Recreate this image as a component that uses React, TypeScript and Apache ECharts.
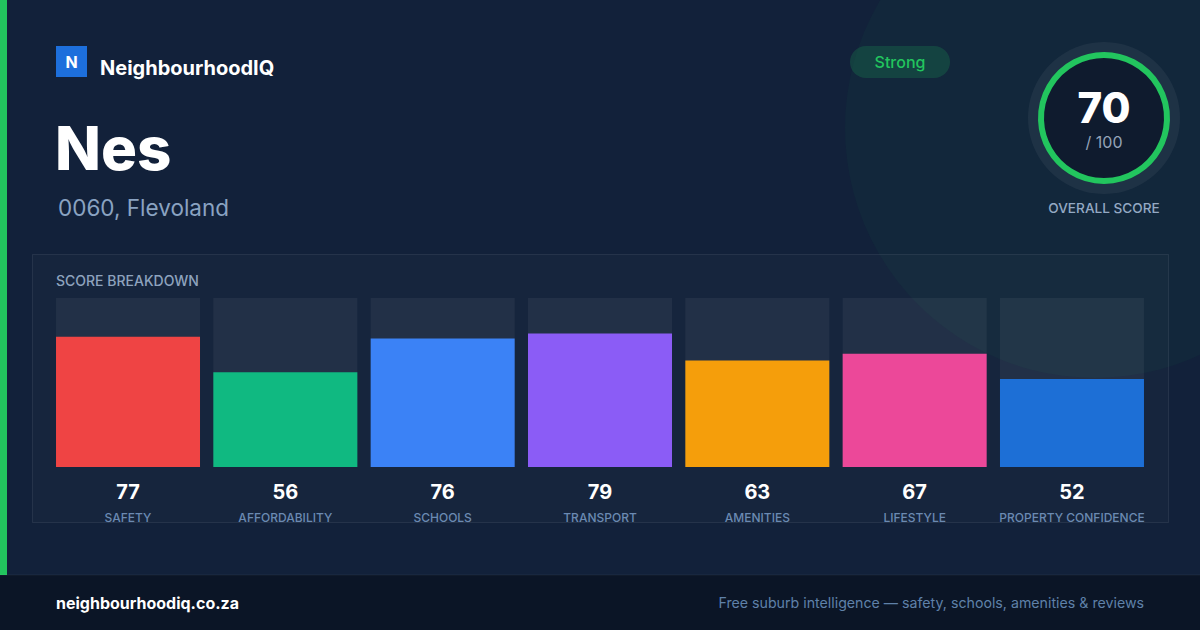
import React, { useEffect, useRef } from "react";
import * as echarts from "echarts";

const categories = ["SAFETY", "AFFORDABILITY", "SCHOOLS", "TRANSPORT", "AMENITIES", "LIFESTYLE", "PROPERTY CONFIDENCE"];
const scores = [77, 56, 76, 79, 63, 67, 52];
const barColors = ["#ef4444", "#10b981", "#3b82f6", "#8b5cf6", "#f59e0b", "#ec4899", "#1d6fd6"];
const overallScore = 70;
const suburb = "Nes";
const location = "0060, Flevoland";
const rating = "Strong";

const FONT = "Inter, 'Noto Sans', sans-serif";

export default function App() {
  const ref = useRef<HTMLDivElement>(null);
  useEffect(() => {
    if (!ref.current) return;
    const chart = echarts.init(ref.current, null, { renderer: "svg" });
    const cx = 1104, cy = 118;
    chart.setOption({
      animation: false,
      backgroundColor: "#12213a",
      textStyle: { fontFamily: FONT },
      grid: { left: 49.35, right: 49.35, top: 298, bottom: 163 },
      xAxis: {
        type: "category",
        data: categories,
        axisLine: { show: false },
        axisTick: { show: false },
        axisLabel: {
          interval: 0,
          margin: 12,
          formatter: (v: string, i: number) => `{v|${scores[i]}}\n{n|${v}}`,
          rich: {
            v: { fontSize: 20, fontWeight: "bold", color: "#ffffff", lineHeight: 26, fontFamily: FONT },
            n: { fontSize: 12, fontWeight: 500, color: "#6b8ab2", lineHeight: 24, fontFamily: FONT },
          },
        },
      },
      yAxis: { type: "value", min: 0, max: 100, show: false, splitLine: { show: false } },
      series: [
        {
          type: "bar",
          barWidth: 144,
          data: scores.map((s, i) => ({ value: s, itemStyle: { color: barColors[i] } })),
          showBackground: true,
          backgroundStyle: { color: "rgba(255,255,255,0.055)" },
          z: 3,
        },
      ],
      graphic: [
        { type: "circle", z: -10, shape: { cx: 1095, cy: 128, r: 250 }, style: { fill: "rgba(34,197,94,0.045)" } },
        { type: "rect", z: -5, shape: { x: 0, y: 0, width: 7, height: 575 }, style: { fill: "#22c55e" } },
        { type: "rect", z: -5, shape: { x: 0, y: 575, width: 1200, height: 55 }, style: { fill: "#0b1526" } },
        { type: "line", z: -5, shape: { x1: 0, y1: 575, x2: 1200, y2: 575 }, style: { stroke: "rgba(255,255,255,0.06)", lineWidth: 1 } },
        { type: "text", z: 5, x: 56, y: 603, style: { text: "neighbourhoodiq.co.za", fill: "#ffffff", font: `bold 16px ${FONT}`, textVerticalAlign: "middle" } },
        { type: "text", z: 5, x: 1144, y: 602, style: { text: "Free suburb intelligence — safety, schools, amenities & reviews", fill: "#5f81a9", font: `14.2px ${FONT}`, textAlign: "right", textVerticalAlign: "middle" } },
        { type: "rect", z: 5, shape: { x: 56, y: 46, width: 31, height: 31 }, style: { fill: "#1d6fdc" } },
        { type: "text", z: 6, x: 71.5, y: 61.5, style: { text: "N", fill: "#ffffff", font: `bold 16px ${FONT}`, textAlign: "center", textVerticalAlign: "middle" } },
        { type: "text", z: 5, x: 100, y: 68, style: { text: "NeighbourhoodIQ", fill: "#ffffff", font: `bold 20px ${FONT}`, textVerticalAlign: "middle" } },
        { type: "text", z: 5, x: 55, y: 148, style: { text: suburb, fill: "#ffffff", font: `800 60px ${FONT}`, textVerticalAlign: "middle" } },
        { type: "text", z: 5, x: 58, y: 207, style: { text: location, fill: "#8aa3c2", font: `22.5px ${FONT}`, textVerticalAlign: "middle" } },
        { type: "rect", z: 5, shape: { x: 850, y: 46, width: 100, height: 32, r: 16 }, style: { fill: "rgba(34,197,94,0.18)" } },
        { type: "text", z: 6, x: 900, y: 62, style: { text: rating, fill: "#22c55e", font: `500 16px ${FONT}`, textAlign: "center", textVerticalAlign: "middle" } },
        { type: "circle", z: 5, shape: { cx, cy, r: 76 }, style: { fill: "rgba(255,255,255,0.05)" } },
        { type: "circle", z: 6, shape: { cx, cy, r: 63 }, style: { fill: "#0f1b2e" } },
        {
          type: "arc", z: 7,
          shape: { cx, cy, r: 63, startAngle: -Math.PI / 2, endAngle: -Math.PI / 2 + Math.PI * 2 - 0.0001, clockwise: true },
          style: { stroke: "#22c55e", lineWidth: 6, fill: "none" },
        },
        { type: "text", z: 8, x: cx, y: 107, style: { text: String(overallScore), fill: "#ffffff", font: `800 42px ${FONT}`, textAlign: "center", textVerticalAlign: "middle" } },
        { type: "text", z: 8, x: cx, y: 142, style: { text: "/ 100", fill: "#94a3b8", font: `16px ${FONT}`, textAlign: "center", textVerticalAlign: "middle" } },
        { type: "text", z: 8, x: cx, y: 208, style: { text: "OVERALL SCORE", fill: "#94a9c4", font: `500 13.6px ${FONT}`, textAlign: "center", textVerticalAlign: "middle" } },
        { type: "rect", z: -1, shape: { x: 32.5, y: 254.5, width: 1136, height: 268 }, style: { fill: "rgba(255,255,255,0.02)", stroke: "rgba(255,255,255,0.08)", lineWidth: 1 } },
        { type: "text", z: 5, x: 56, y: 280, style: { text: "SCORE BREAKDOWN", fill: "#8ea3be", font: `500 14px ${FONT}`, textVerticalAlign: "middle" } },
      ],
    });
    return () => chart.dispose();
  }, []);
  return <div ref={ref} style={{ position: "absolute", left: 0, top: 0, width: 1200, height: 630 }} />;
}
